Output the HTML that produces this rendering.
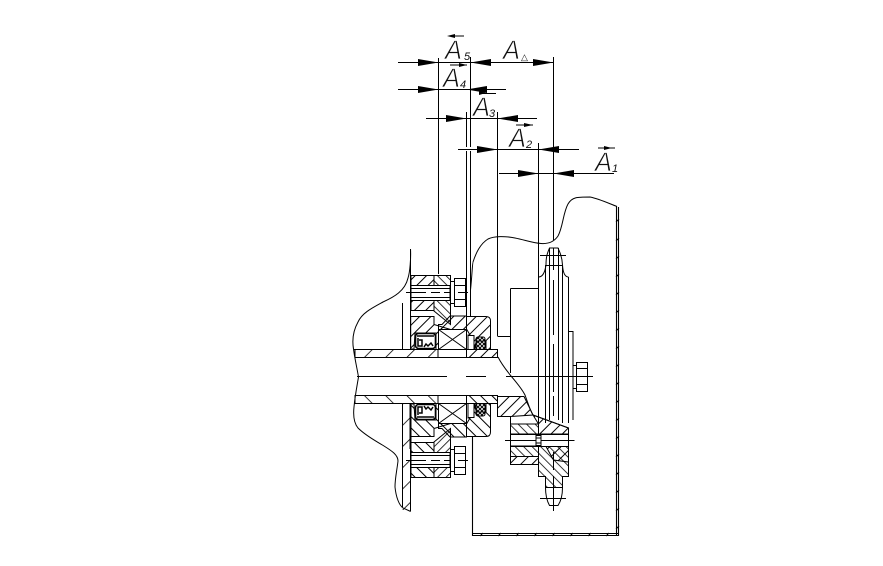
<!DOCTYPE html>
<html>
<head>
<meta charset="utf-8">
<style>
html,body{margin:0;padding:0;background:#fff;width:883px;height:566px;overflow:hidden}
svg{display:block}
text{font-family:"Liberation Sans",sans-serif;font-style:italic;fill:#111}
.A{font-size:27px;stroke:#fff;stroke-width:.7px}
.s{font-size:11px}
</style>
</head>
<body>
<svg width="883" height="566" viewBox="0 0 883 566" xmlns="http://www.w3.org/2000/svg">
<defs>
<pattern id="f" width="8" height="8" patternUnits="userSpaceOnUse" patternTransform="rotate(45)"><line x1="0" y1="0" x2="0" y2="8" stroke="#000" stroke-width="2"/></pattern>
<pattern id="b" width="6" height="6" patternUnits="userSpaceOnUse" patternTransform="rotate(-45)"><line x1="0" y1="0" x2="0" y2="6" stroke="#000" stroke-width="1.6"/></pattern>
<pattern id="w" width="15" height="15" patternUnits="userSpaceOnUse" patternTransform="rotate(45)"><line x1="0" y1="0" x2="0" y2="15" stroke="#000" stroke-width="1.6"/></pattern>
<pattern id="x" width="4" height="4" patternUnits="userSpaceOnUse"><path d="M0 0L4 4M4 0L0 4" stroke="#000" stroke-width="1"/></pattern>
<g id="half">
  <!-- bolt block -->
  <rect x="411" y="275.5" width="23" height="10" fill="url(#f)" stroke="#000"/>
  <rect x="411" y="300.5" width="23" height="10" fill="url(#f)" stroke="#000"/>
  <path d="M434 275.5H450.5V324.5L434 311Z" fill="url(#b)" stroke="#000"/>
  <rect x="411" y="285.5" width="39" height="15" fill="#fff" stroke="#000"/>
  <path d="M411 288.5H450M411 297.5H450" stroke="#000" fill="none"/>
  <rect x="450.5" y="281.5" width="4" height="22" fill="#fff" stroke="#000"/>
  <rect x="454.5" y="278.5" width="11" height="28" fill="#fff" stroke="#000"/>
  <path d="M454.5 285.5H465.5M454.5 299.5H465.5" stroke="#000"/>
  <path d="M406 292.5H426M431 292.5H440M444 292.5H450M458 292.5H468" stroke="#000"/>
  <!-- flange body -->
  <path d="M410.7 316.5H434V324.5L450.5 329.5H438.5V349.5H436L436 333H415L414 349H410.7Z" fill="url(#f)" stroke="#000"/>
  <!-- seal -->
  <rect x="415.5" y="333.5" width="20" height="15" rx="3" fill="#fff" stroke="#000" stroke-width="1.6"/>
  <path d="M417 336H434M418 338v8h4v-6h-3M424 347l2-3 2 2 3-3 2 3" fill="none" stroke="#000" stroke-width="1.5"/>
  <!-- bearing -->
  <rect x="438.5" y="329.5" width="28" height="20" fill="#fff" stroke="#000"/>
  <path d="M438.5 329.5L466.5 349.5M466.5 329.5L438.5 349.5" stroke="#000"/>
  <path d="M438.5 324.5H442L450 316H466.5V329.5H438.5Z" fill="url(#f)" stroke="#000"/>
  <!-- outer cover -->
  <path d="M466.5 316.5H486Q490.5 316.5 490.5 321V349.5H486V341H477L475 345V349.5H468V335L470 335L466.5 329Z" fill="url(#f)" stroke="#000"/>
  <rect x="476" y="337" width="9" height="12.5" rx="2" fill="url(#x)" stroke="#000"/>
  <rect x="468" y="335.5" width="6" height="14" fill="#fff" stroke="#000"/>
  <!-- shaft sleeve -->
  <rect x="355" y="349.5" width="83" height="8" fill="url(#w)"/>
  <rect x="466.5" y="349.5" width="31" height="8" fill="url(#f)"/>
  <path d="M354 349.5H497.5M356 357.5H497.5" stroke="#000" fill="none"/>
</g>
</defs>

<g fill="none" stroke="#000" stroke-width="1">
  <use href="#half"/>
  <use href="#half" transform="translate(0,753) scale(1,-1)"/>

  <!-- break curve left -->
  <path d="M410.5 249C411 258 410 272 408 278C405 291 394 297 383 302C372 308 362 313 358 322C353 331 352 340 353.5 349C355 360 357 368 358.5 377C357 386 355 396 354 407C353 416 354 423 358 428C366 436 376 441 384 446C392 451 398 455 398 461C397 470 395 478 395 487C396 497 399 505 403 508L410.7 511.5"/>

  <!-- flange plate -->
  <path d="M402.5 303V349M410.5 249V349"/>
  <path d="M402.5 404V507M410.5 404V511"/>
  <rect x="402.5" y="404" width="8" height="106" fill="url(#w)" stroke="none"/>
  <path d="M410.5 404V449" stroke-width="2"/>

  <!-- extension lines -->
  <path d="M438.5 58V274M470.5 57V147M470.5 151V316M466.5 112V147M466.5 151V316M497.5 112V336M538.5 143V430M553.5 57V240"/>

  <!-- dimension lines -->
  <path d="M398 62.5H553M398 89.5H506M426 118.5H537M458 149.5H579M499 173.5H614"/>

  <!-- housing / cover -->
  <path d="M470.5 290C472 276 472.5 262 473 262C476 253 480 244 488 239C494 236 505 236 515 238C525 240 533 243 541 243.5C548 244 554 242 558 236C563 227 563 213 568 204C572 197 577 197 590 197C600 199 610 204 617 206.5"/>
  <path d="M616.5 206V535M618.5 207V536M472.5 437V536M472.5 533.5H618M472.5 535.5H618" stroke-width="1.1"/>
  <path d="M616 222l3-3M616 241l3-3M616 259l3-3M616 277l3-3M616 295l3-3M616 313l3-3M616 331l3-3M616 349l3-3M616 367l3-3M616 385l3-3M616 403l3-3M616 421l3-3M616 439l3-3M616 457l3-3M616 475l3-3M616 493l3-3M616 511l3-3M616 529l3-3M480 536l3-3M498 536l3-3M516 536l3-3M534 536l3-3M552 536l3-3M570 536l3-3M588 536l3-3M606 536l3-3"/>

  <!-- sprocket upper -->
  <path d="M546 265C546 255 548 252 549.5 248H558C559.5 252 562 255 562.5 265C563 273 565 277 568.5 277"/>
  <path d="M546 265C545 272 543 277 538.5 277"/>
  <path d="M540 255.5H566M545 265.5H563M568.5 277V423M568.5 331.5H573V420M573 365.5H577M573 388.5H577"/>
  <path d="M545.5 265V423M549.5 248V420M558.5 248V420M562.5 265V423"/>
  <path d="M553.5 248V270M553.5 280V335M553.5 344V392M553.5 396V416"/>
  <rect x="576.5" y="362.5" width="11" height="29" fill="#fff"/>
  <path d="M576.5 368.5H587.5M576.5 384.5H587.5"/>
  <path d="M506 376.5H593M357 376.5H447M466 376.5H486"/>

  <!-- hub upper -->
  <path d="M510.5 288.5H538.5M510.5 288.5V373M497.5 336.5H510.5"/>

  <!-- break curve right -->
  <path d="M498 357C502 365 507 371 511 376C517 383 522 389 525 395C528 403 530 410 533 415L568.5 428"/>

  <!-- lower hub hatched -->
  <path d="M497.5 396.5H524L533 415L510.5 416.5H497.5Z" fill="url(#f)"/>
  <path d="M510.5 424H538.5V434H510.5Z" fill="url(#b)"/>
  <path d="M533 415L568.5 428V434H538.5V424Z" fill="url(#f)"/>
  <path d="M510.5 416.5V464.5H538.5V446H510.5"/>
  <rect x="510.5" y="446.5" width="28" height="10" fill="url(#b)"/>
  <rect x="510.5" y="456.5" width="28" height="8" fill="url(#f)"/>
  <path d="M510.5 434.5H568.5M510.5 446.5H568.5M568.5 428V476.5"/>
  <path d="M505 440.5H574.5"/>
  <rect x="536" y="435.5" width="5" height="10" fill="#fff"/>
  <path d="M536 438H541M536 443H541"/>

  <!-- lower sprocket tooth -->
  <path d="M538.5 446.5H568.5V476.5H562.5V487.5H545.5V476.5H538.5Z" fill="url(#b)"/>
  <path d="M546 446.5L568.5 446.5V462L553.5 460Z" fill="url(#f)"/>
  <path d="M545.5 487.5C545.5 496 547 501 549.5 505.5H558C561 501 562.5 496 562.5 487.5"/>
  <path d="M540 498.5H566M553.5 452V470M553.5 476V511"/>
</g>

<!-- arrowheads -->
<g fill="#000">
  <path d="M418 59V66L438.5 62.5Z"/>
  <path d="M491 59V66L470.5 62.5Z"/>
  <path d="M533 59V66L553.5 62.5Z"/>
  <path d="M418 86V93L438.5 89.5Z"/>
  <path d="M487 86V93L466.5 89.5Z"/>
  <path d="M446 115V122L466.5 118.5Z"/>
  <path d="M518 115V122L497.5 118.5Z"/>
  <path d="M477 146V153L497.5 149.5Z"/>
  <path d="M559 146V153L538.5 149.5Z"/>
  <path d="M518 170V177L538.5 173.5Z"/>
  <path d="M574 170V177L553.5 173.5Z"/>
  <!-- overbar arrows -->
  <path d="M447 36L455 34V38Z"/><rect x="452" y="35.5" width="12" height="1"/>
  <path d="M467 65L459 63V67Z"/><rect x="450" y="64.5" width="17" height="1"/>
  <path d="M486 93L479 91V95Z"/><rect x="479" y="93" width="17" height="1"/>
  <path d="M533 125L524 123V127Z"/><rect x="516" y="124.5" width="17" height="1"/>
  <path d="M612 148L604 146V150Z"/><rect x="598" y="147.5" width="17" height="1"/>
</g>

<!-- labels -->
<text class="A" x="445" y="59" textLength="17" lengthAdjust="spacingAndGlyphs">A</text><text class="s" x="464" y="60">5</text>
<text class="A" x="503" y="59" textLength="17" lengthAdjust="spacingAndGlyphs">A</text><text class="s" x="521" y="60" style="font-style:normal;font-size:9px">△</text>
<text class="A" x="443" y="87" textLength="17" lengthAdjust="spacingAndGlyphs">A</text><text class="s" x="460" y="88">4</text>
<text class="A" x="473" y="116" textLength="17" lengthAdjust="spacingAndGlyphs">A</text><text class="s" x="489" y="117">3</text>
<text class="A" x="509" y="147" textLength="17" lengthAdjust="spacingAndGlyphs">A</text><text class="s" x="526" y="148">2</text>
<text class="A" x="595" y="171" textLength="17" lengthAdjust="spacingAndGlyphs">A</text><text class="s" x="612" y="172">1</text>
</svg>
</body>
</html>
